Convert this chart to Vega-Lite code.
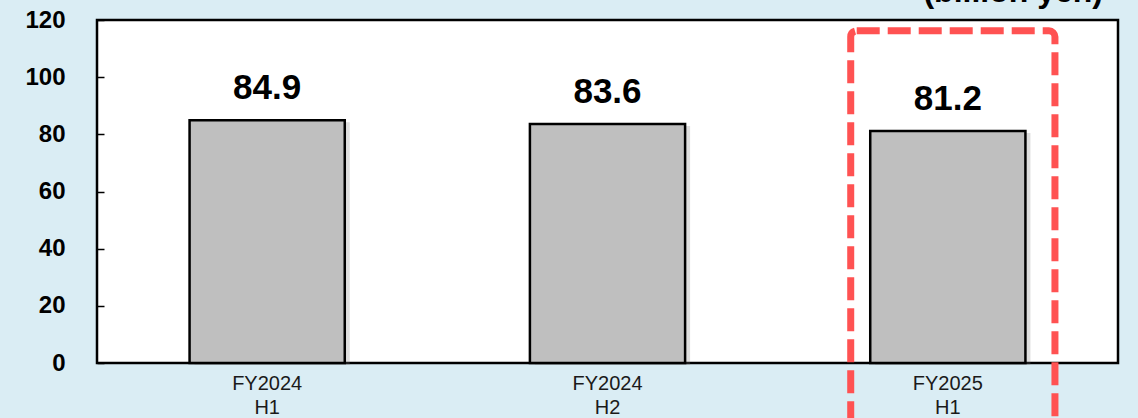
{
  "$schema": "https://vega.github.io/schema/vega-lite/v6.json",
  "width": 1021,
  "height": 343,
  "autosize": {"type": "none"},
  "padding": {"left": 97, "top": 20, "right": 20, "bottom": 55},
  "background": "#daedf4",
  "title": {
    "text": "(billion yen)",
    "anchor": "end",
    "orient": "top",
    "fontSize": 32,
    "fontWeight": "bold",
    "font": "Liberation Sans",
    "color": "#000000",
    "baseline": "alphabetic",
    "offset": -26,
    "dx": -15
  },
  "config": {
    "view": {"stroke": "#000000", "strokeWidth": 2.5, "fill": "#ffffff"},
    "font": "Liberation Sans"
  },
  "data": {
    "values": [
      {"period": "FY2024 H1", "value": 84.9},
      {"period": "FY2024 H2", "value": 83.6},
      {"period": "FY2025 H1", "value": 81.2}
    ]
  },
  "encoding": {
    "x": {
      "field": "period",
      "type": "nominal",
      "sort": null,
      "scale": {"paddingInner": 0.544, "paddingOuter": 0.272},
      "axis": {
        "title": null,
        "domain": false,
        "ticks": false,
        "labelAngle": 0,
        "labelExpr": "split(datum.value, ' ')",
        "labelFontSize": 20,
        "labelColor": "#1a1a1a",
        "labelPadding": 10,
        "labelLineHeight": 24,
        "labelFont": "Liberation Sans"
      }
    }
  },
  "layer": [
    {
      "mark": {"type": "bar", "fill": "#7f7f7f", "opacity": 0.25, "xOffset": 5, "yOffset": 2},
      "encoding": {
        "y": {
          "field": "value",
          "type": "quantitative",
          "scale": {"domain": [0, 120]},
          "axis": {
            "title": null,
            "values": [0, 20, 40, 60, 80, 100, 120],
            "domain": false,
            "grid": false,
            "ticks": true,
            "offset": -7,
            "tickSize": 7,
            "zindex": 2,
            "tickColor": "#000000",
            "tickWidth": 1.5,
            "labelFontSize": 24,
            "labelFontWeight": "bold",
            "labelColor": "#000000",
            "labelPadding": 32,
            "labelFont": "Liberation Sans"
          }
        }
      }
    },
    {
      "mark": {"type": "bar", "fill": "#bfbfbf", "stroke": "#000000", "strokeWidth": 2.5},
      "encoding": {
        "y": {"field": "value", "type": "quantitative"}
      }
    },
    {
      "mark": {"type": "text", "fontSize": 35, "fontWeight": "bold", "baseline": "alphabetic", "dy": -21, "color": "#000000", "font": "Liberation Sans"},
      "encoding": {
        "y": {"field": "value", "type": "quantitative"},
        "text": {"field": "value", "type": "quantitative", "format": ".1f"}
      }
    },
    {
      "data": {"values": [{"period": "FY2025 H1", "top": 116.2, "bottom": -30}]},
      "mark": {"type": "rect", "width": {"band": 1.316}, "xOffset": 5, "fill": null, "fillOpacity": 0, "stroke": "#ff5252", "strokeWidth": 7, "strokeDash": [23, 8], "cornerRadius": 6, "clip": false},
      "encoding": {
        "y": {"field": "top", "type": "quantitative"},
        "y2": {"field": "bottom"}
      }
    }
  ]
}
